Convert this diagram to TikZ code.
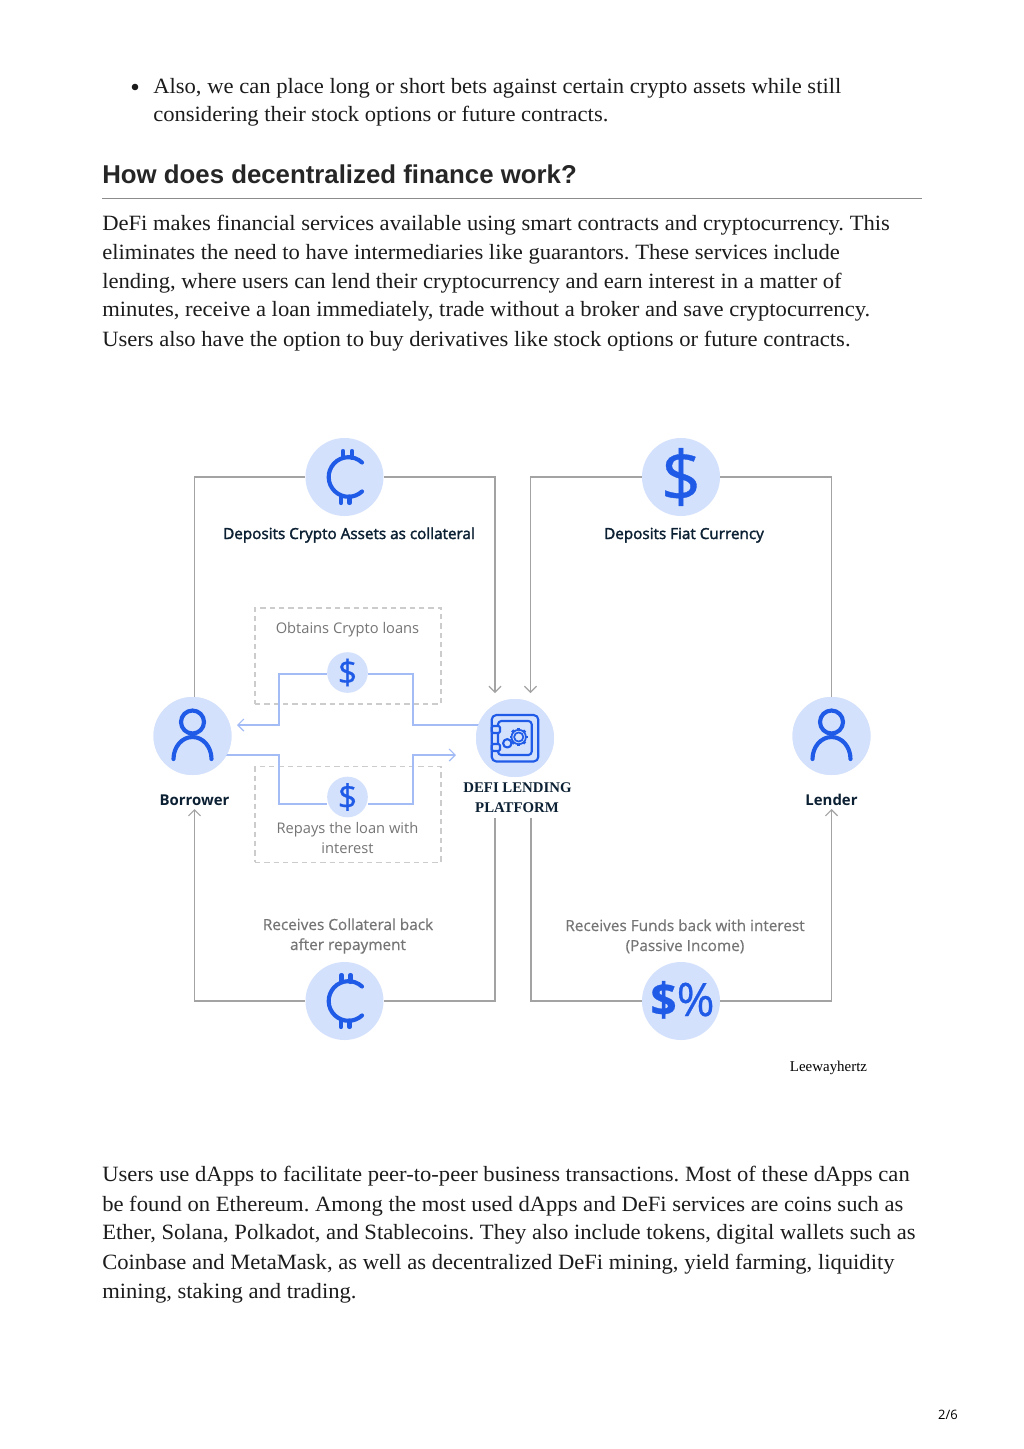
\documentclass[tikz,border=0pt]{standalone}
\usepackage{fontspec}
\setmainfont[FakeStretch=1.037]{Liberation Serif}
\newfontfamily\plainserif{Liberation Serif}
\newfontfamily\headfont{Liberation Sans}
\newfontfamily\osfont{Open Sans}
\newfontfamily\osmedium[FakeBold=0.5]{Open Sans}
\newfontfamily\oslabel[FakeBold=2]{Open Sans}
\usetikzlibrary{arrows.meta}
\definecolor{disc}{HTML}{D4E1FD}
\definecolor{ink}{HTML}{1F5BE6}
\definecolor{soft}{HTML}{A3BCF6}
\definecolor{wire}{HTML}{A3A3A3}
\definecolor{navy}{HTML}{0C2033}
\definecolor{mute}{HTML}{757575}
\definecolor{bodyink}{HTML}{1C1C1C}
\frenchspacing
\tikzset{
  x=0.75pt,y=-0.75pt,
  bodyline/.style={anchor=base west,inner sep=0,text=bodyink,font=\fontsize{16.35pt}{20pt}\selectfont},
  headline/.style={anchor=base west,inner sep=0,text=black!85,font=\headfont\bfseries\fontsize{19.35pt}{24pt}\selectfont},
  bigdisc/.style={circle,fill=disc,draw=none,minimum size=58.5pt,inner sep=0},
  smalldisc/.style={circle,fill=disc,draw=none,minimum size=30.5pt,inner sep=0},
  wireline/.style={draw=wire,line width=1.4pt},
  softline/.style={draw=soft,line width=1.3pt},
  opentip/.style={-{Straight Barb[length=4.5pt,width=9pt,line width=0.9pt]}},
  dashbox/.style={draw=black!20,line width=0.8pt,dash pattern=on 4pt off 3pt},
  iconline/.style={draw=ink,line width=3.1pt,line cap=round,line join=round},
  thinicon/.style={draw=ink,line width=1.6pt,line cap=round,line join=round},
  strongtext/.style={anchor=base,inner sep=0,text=navy,font=\oslabel\fontsize{11.45pt}{13pt}\selectfont},
  roletext/.style={anchor=base,inner sep=0,text=navy,font=\osfont\bfseries\fontsize{11.2pt}{13pt}\selectfont},
  mutetext/.style={anchor=base,inner sep=0,text=mute,font=\osfont\fontsize{11pt}{14pt}\selectfont},
  mutetextb/.style={anchor=base,inner sep=0,text=mute,font=\osmedium\fontsize{11.5pt}{14pt}\selectfont},
  platformtext/.style={anchor=base,inner sep=0,text=navy,font=\plainserif\bfseries\fontsize{11.1pt}{14pt}\selectfont},
}
\begin{document}
\begin{tikzpicture}
\useasboundingbox[fill=white] (0,0) rectangle (1024,1449);
% page text
\fill[bodyink] (135,87) circle (3.3);
\node[bodyline] (t1) at (153,93) {Also, we can place long or short bets against certain crypto assets while still};
\node[bodyline] (t2) at (153,121) {considering their stock options or future contracts.};
\node[headline] (h) at (102,183) {How does decentralized finance work?};
\coordinate (ruleL) at (102,198);
\coordinate (ruleR) at (922,198);
\draw[black!45,line width=0.75pt] (ruleL) -- (ruleR);
\node[bodyline] (p1) at (102,230) {DeFi makes financial services available using smart contracts and cryptocurrency. This};
\node[bodyline] (p2) at (102,259) {eliminates the need to have intermediaries like guarantors. These services include};
\node[bodyline] (p3) at (102,288) {lending, where users can lend their cryptocurrency and earn interest in a matter of};
\node[bodyline] (p4) at (102,316) {minutes, receive a loan immediately, trade without a broker and save cryptocurrency.};
\node[bodyline] (p5) at (102,346) {Users also have the option to buy derivatives like stock options or future contracts.};
\node[bodyline] (q1) at (102,1181) {Users use dApps to facilitate peer-to-peer business transactions. Most of these dApps can};
\node[bodyline] (q2) at (102,1211) {be found on Ethereum. Among the most used dApps and DeFi services are coins such as};
\node[bodyline] (q3) at (102,1239) {Ether, Solana, Polkadot, and Stablecoins. They also include tokens, digital wallets such as};
\node[bodyline] (q4) at (102,1269) {Coinbase and MetaMask, as well as decentralized DeFi mining, yield farming, liquidity};
\node[bodyline] (q5) at (102,1298) {mining, staking and trading.};
\node[anchor=base,inner sep=0,font=\osfont\fontsize{9.7pt}{12pt}\selectfont] (pg) at (948,1419) {2/6};
\node[anchor=base,inner sep=0,font=\plainserif\fontsize{11.2pt}{13pt}\selectfont] (lw) at (828.5,1071) {Leewayhertz};
% dashed boxes
\node[dashbox,minimum width=139.5pt,minimum height=72pt,inner sep=0] (boxA) at (348,656) {};
\node[dashbox,minimum width=139.5pt,minimum height=71.5pt,inner sep=0] (boxB) at (348,814.5) {};
% free ends of connectors
\coordinate (a1) at (495,693);
\coordinate (a2) at (530.5,693);
\coordinate (a3) at (194.5,809);
\coordinate (a4) at (831.5,809);
\coordinate (s1) at (495,818);
\coordinate (s2) at (531,818);
\coordinate (b1) at (194.5,700);
\coordinate (b2) at (831.5,700);
\coordinate (a5) at (237,725);
\coordinate (a6) at (456,755);
\coordinate (s3) at (482,725);
\coordinate (s4) at (225,755);
% discs
\node[smalldisc] (dA) at (347.5,672.5) {};
\node[smalldisc] (dB) at (347.5,797) {};
\node[bigdisc] (borrower) at (192.5,736) {};
\node[bigdisc] (lender) at (831.5,736) {};
\node[bigdisc] (platform) at (515,738) {};
\node[bigdisc] (cTop) at (344.5,477) {};
\node[bigdisc] (dTop) at (681,477) {};
\node[bigdisc] (cBot) at (344.5,1001) {};
\node[bigdisc] (pBot) at (681,1001) {};
% connectors
\draw[wireline] (cTop.west) -| (b1);
\draw[wireline,opentip] (cTop.east) -| (a1);
\draw[wireline,opentip] (dTop.west) -| (a2);
\draw[wireline] (dTop.east) -| (b2);
\draw[wireline] (s1) |- (cBot.east);
\draw[wireline,opentip] (cBot.west) -| (a3);
\draw[wireline] (s2) |- (pBot.west);
\draw[wireline,opentip] (pBot.east) -| (a4);
\draw[softline,opentip] (dA.west |- 0,674) -| (279,725) -- (a5);
\draw[softline] (dA.east |- 0,674) -| (413,725) -- (s3);
\draw[softline] (s4) -| (279,804) -- (dB.west |- 0,804);
\draw[softline,opentip] (dB.east |- 0,804) -| (413,755) -- (a6);
% discs repainted over the line ends
\fill[disc] (borrower) circle (39);
\fill[disc] (lender) circle (39);
\fill[disc] (platform) circle (39);
% labels
\node[strongtext] (l1) at (349,539) {Deposits Crypto Assets as collateral};
\node[strongtext] (l2) at (684,539) {Deposits Fiat Currency};
\node[roletext] (l3) at (194.5,805) {Borrower};
\node[roletext] (l4) at (831.5,805) {Lender};
\node[platformtext] (l5) at (517.5,792) {DEFI LENDING};
\node[platformtext] (l6) at (517,812) {PLATFORM};
\node[mutetext] (l7) at (347.5,633) {Obtains Crypto loans};
\node[mutetext] (l8) at (347.5,833) {Repays the loan with};
\node[mutetext] (l9) at (347.5,853) {interest};
\node[mutetextb] (l10) at (348,930) {Receives Collateral back};
\node[mutetextb] (l11) at (348,950) {after repayment};
\node[mutetextb] (l12) at (685,931) {Receives Funds back with interest};
\node[mutetextb] (l13) at (685,951) {(Passive Income)};
% money glyphs
\node[inner sep=0,text=ink,font=\osmedium\fontsize{25.5pt}{25pt}\selectfont] (sA) at (dA) {\$};
\node[inner sep=0,text=ink,font=\osmedium\fontsize{25.5pt}{25pt}\selectfont] (sB) at (dB) {\$};
\node[inner sep=0,text=ink,font=\osmedium\fontsize{53pt}{49pt}\selectfont] (sT) at (dTop) {\$};
\node[inner sep=0,text=ink,anchor=base,font=\osmedium\fontsize{34.5pt}{34pt}\selectfont] (sP) at (682.5,1016) {\textbf{\$}\%};
% crypto glyphs
\foreach \cn/\bx in {cTop/0,cBot/-1.5}{
  \begin{scope}[shift={(\cn.center)}]
    \draw[iconline] (17.5,-14.5) arc[start angle=-47,end angle=-313,radius=19.8];
    \draw[iconline] (-1.5+\bx,-26) -- (-1.5+\bx,-19);
    \draw[iconline] (7.5+\bx,-26) -- (7.5+\bx,-19);
    \draw[iconline] (-3.5,19.5) -- (-3.5,26);
    \draw[iconline] (5,19.5) -- (5,26);
  \end{scope}
}
% people
\foreach \pn in {borrower,lender}{
  \begin{scope}[shift={(\pn.center)}]
    \draw[iconline] (0,-14) circle (11.5);
    \draw[iconline] (-19,23) arc[start angle=180,end angle=360,x radius=19,y radius=22];
  \end{scope}
}
% safe
\begin{scope}[shift={(platform.center)}]
  \draw[thinicon,rounded corners=3.5] (-23.3,-23) rectangle (23.3,23.5);
  \draw[thinicon,rounded corners=2.5] (-17,-17) rectangle (16.7,17);
  \fill[disc] (-24,-12) rectangle (-15,-5);
  \fill[disc] (-24,6) rectangle (-15,13);
  \draw[thinicon,rounded corners=1] (-23.3,-12) rectangle (-15,-5);
  \draw[thinicon,rounded corners=1] (-23.3,6) rectangle (-15,13);
  \draw[thinicon,line width=1.3pt] (3.7,-1) circle (4.6);
  \draw[thinicon,line width=1.3pt] (3.7,-1) circle (7.2);
  \foreach \ang in {0,45,...,315}{
    \draw[thinicon,line width=2.2pt,line cap=butt] (\ang:7.2) ++(3.7,-1) -- ++(\ang:2);
  }
  \draw[thinicon] (-7.7,5.3) circle (4.2);
\end{scope}
\end{tikzpicture}
\end{document}
